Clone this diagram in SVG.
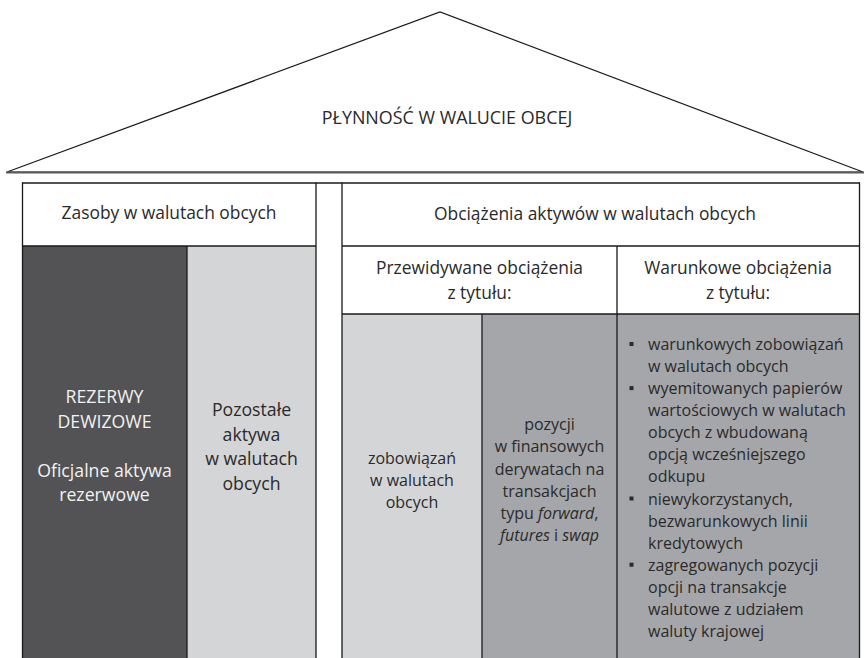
<svg xmlns="http://www.w3.org/2000/svg" width="864" height="658" viewBox="0 0 864 658">
<style>
text{font-family:"Open Sans","Noto Sans","DejaVu Sans",sans-serif;font-size:16px;fill:#2a2a2a}
.c{text-anchor:middle}
.h{font-size:17.4px}
.b{font-size:17.7px}
.r{font-size:17.9px}
.w{fill:#f2f2f2}
.ln{stroke:#1a1a1a;stroke-width:1.3;fill:none}
.dark{fill:#535355}
.light{fill:#d4d5d7}
.mid{fill:#a5a6a9}
.bul{fill:#2a2a2a}
</style>
<rect x="0" y="0" width="864" height="658" fill="#ffffff"/>
<g id="roof">
<polygon points="7,172 440,12 863,172" fill="#ffffff" stroke="#1a1a1a" stroke-width="1.2"/>
<line x1="6" y1="172.5" x2="864" y2="172.5" stroke="#5a5a5a" stroke-width="2"/>
<text class="c r" x="447" y="124">PŁYNNOŚĆ W WALUCIE OBCEJ</text>
</g>
<g id="zasoby-header">
<rect x="22.5" y="182.5" width="293.5" height="63.5" fill="#ffffff"/>
<text class="c h" x="169" y="219">Zasoby w walutach obcych</text>
</g>
<g id="rezerwy">
<rect class="dark" x="22.5" y="246" width="164.5" height="420"/>
<text class="c w b" x="104.5" y="403">REZERWY</text>
<text class="c w b" x="104.5" y="428">DEWIZOWE</text>
<text class="c w b" x="104.5" y="477">Oficjalne aktywa</text>
<text class="c w b" x="104.5" y="501">rezerwowe</text>
</g>
<g id="pozostale">
<rect class="light" x="187" y="246" width="129" height="420"/>
<text class="c b" x="251.5" y="416">Pozostałe</text>
<text class="c b" x="251.5" y="440.5">aktywa</text>
<text class="c b" x="251.5" y="465">w walutach</text>
<text class="c b" x="251.5" y="489.5">obcych</text>
</g>
<g id="obciazenia-header">
<rect x="342" y="182.5" width="517" height="63.5" fill="#ffffff"/>
<text class="c h" x="595" y="220">Obciążenia aktywów w walutach obcych</text>
</g>
<g id="przewidywane">
<text class="c h" x="479.5" y="274">Przewidywane obciążenia</text>
<text class="c h" x="479.5" y="299">z tytułu:</text>
</g>
<g id="warunkowe">
<text class="c h" x="738" y="274">Warunkowe obciążenia</text>
<text class="c h" x="738" y="299">z tytułu:</text>
</g>
<g id="zobowiazan">
<rect class="light" x="342" y="314" width="140" height="352"/>
<text class="c" x="412" y="464">zobowiązań</text>
<text class="c" x="412" y="486">w walutach</text>
<text class="c" x="412" y="508">obcych</text>
</g>
<g id="pozycji">
<rect class="mid" x="482" y="314" width="135" height="352"/>
<text class="c" x="549.5" y="430">pozycji</text>
<text class="c" x="549.5" y="452">w finansowych</text>
<text class="c" x="549.5" y="474.5">derywatach na</text>
<text class="c" x="549.5" y="496.7">transakcjach</text>
<text class="c" x="549.5" y="519">typu <tspan font-style="italic">forward</tspan>,</text>
<text class="c" x="549.5" y="541"><tspan font-style="italic">futures</tspan> i <tspan font-style="italic">swap</tspan></text>
</g>
<g id="warunkowe-lista">
<rect class="mid" x="617" y="314" width="242" height="352"/>
<rect class="bul" x="629.5" y="342" width="4" height="4"/>
<rect class="bul" x="629.5" y="386.1" width="4" height="4"/>
<rect class="bul" x="629.5" y="496.5" width="4" height="4"/>
<rect class="bul" x="629.5" y="562.7" width="4" height="4"/>
<text x="648" y="350">warunkowych zobowiązań</text>
<text x="648" y="372.1">w walutach obcych</text>
<text x="648" y="394.1">wyemitowanych papierów</text>
<text x="648" y="416.2">wartościowych w walutach</text>
<text x="648" y="438.3">obcych z wbudowaną</text>
<text x="648" y="460.4">opcją wcześniejszego</text>
<text x="648" y="482.4">odkupu</text>
<text x="648" y="504.5">niewykorzystanych,</text>
<text x="648" y="526.6">bezwarunkowych linii</text>
<text x="648" y="548.6">kredytowych</text>
<text x="648" y="570.7">zagregowanych pozycji</text>
<text x="648" y="592.8">opcji na transakcje</text>
<text x="648" y="614.9">walutowe z udziałem</text>
<text x="648" y="636.9">waluty krajowej</text>
</g>
<g id="connectors">
<line class="ln" x1="22" y1="183" x2="860" y2="183"/>
<line class="ln" x1="22.5" y1="182.5" x2="22.5" y2="666"/>
<line class="ln" x1="316" y1="182.5" x2="316" y2="666"/>
<line class="ln" x1="342" y1="182.5" x2="342" y2="666"/>
<line class="ln" x1="859.5" y1="182.5" x2="859.5" y2="666"/>
<line class="ln" x1="22.5" y1="246" x2="316" y2="246"/>
<line class="ln" x1="342" y1="246" x2="859.5" y2="246"/>
<line class="ln" x1="187" y1="246" x2="187" y2="666"/>
<line class="ln" x1="617" y1="246" x2="617" y2="666"/>
<line class="ln" x1="342" y1="314" x2="859.5" y2="314"/>
<line class="ln" x1="482" y1="314" x2="482" y2="666"/>
</g>
</svg>
